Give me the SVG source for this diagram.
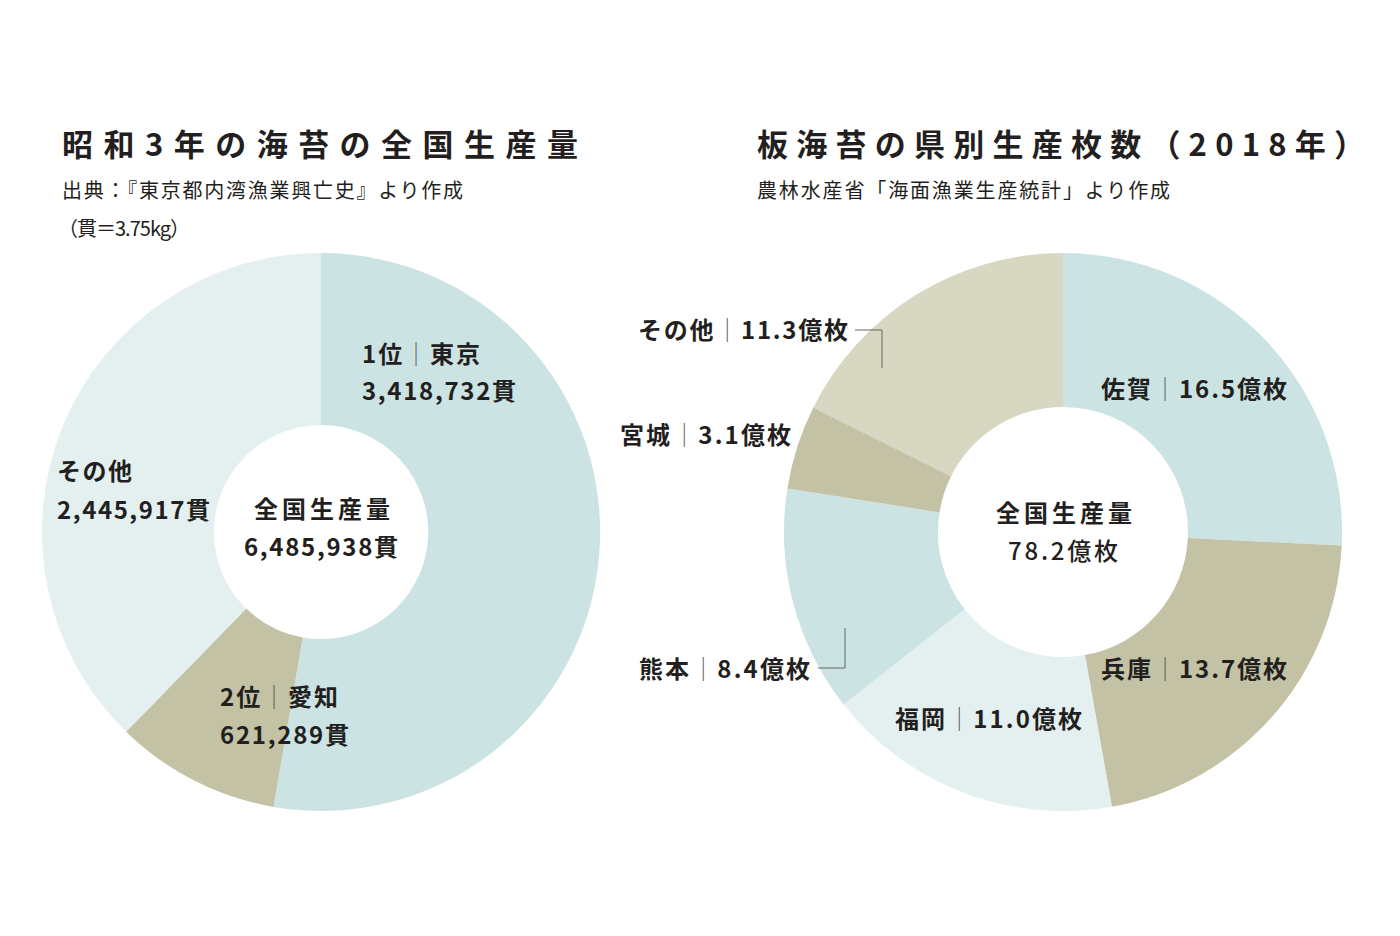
<svg xmlns="http://www.w3.org/2000/svg" width="1400" height="936" viewBox="0 0 1400 936">
<style>
text{font-family:"Noto Sans CJK JP","Noto Sans",sans-serif;fill:#231f20}
.t{font-size:31px;font-weight:700}
.s{font-size:20px;font-weight:400}
.l{font-size:24px;font-weight:700}
.sep{font-weight:300;fill:#555}
.ld{fill:none;stroke:#666;stroke-width:1}
</style>
<rect width="1400" height="936" fill="#fff"/>
<text class="t" x="62" y="156" textLength="516" lengthAdjust="spacing">昭和3年の海苔の全国生産量</text>
<text class="s" x="62" y="198" textLength="401">出典：『東京都内湾漁業興亡史』より作成</text>
<text class="s" x="58" y="236" textLength="132">（貫＝3.75kg）</text>
<text class="t" x="757" y="156" textLength="608" lengthAdjust="spacing">板海苔の県別生産枚数（2018年）</text>
<text class="s" x="757" y="198" textLength="413">農林水産省「海面漁業生産統計」より作成</text>

<g id="chart-left">
<path id="l-tokyo" d="M321,253 A279,279 0 1 1 273.5,806.9 L302.8,637.4 A107,107 0 1 0 321,425 Z" fill="#cce3e3"/>
<path id="l-aichi" d="M273.5,806.9 A279,279 0 0 1 126.1,731.7 L246.3,608.6 A107,107 0 0 0 302.8,637.4 Z" fill="#c4c2a4"/>
<path id="l-other" d="M126.1,731.7 A279,279 0 0 1 321,253 L321,425 A107,107 0 0 0 246.3,608.6 Z" fill="#e4f0ef"/>
</g>
<g id="chart-right">
<path id="r-saga" d="M1063,253 A279,279 0 0 1 1341.7,545.6 L1187.8,538.1 A125,125 0 0 0 1063,407 Z" fill="#cce3e3"/>
<path id="r-hyogo" d="M1341.7,545.6 A279,279 0 0 1 1111.9,806.7 L1084.9,655.1 A125,125 0 0 0 1187.8,538.1 Z" fill="#c4c2a4"/>
<path id="r-fukuoka" d="M1111.9,806.7 A279,279 0 0 1 843.6,704.4 L964.7,609.3 A125,125 0 0 0 1084.9,655.1 Z" fill="#e4f0ef"/>
<path id="r-kumamoto" d="M843.6,704.4 A279,279 0 0 1 787.4,488.4 L939.5,512.4 A125,125 0 0 0 964.7,609.3 Z" fill="#cce3e3"/>
<path id="r-miyagi" d="M787.4,488.4 A279,279 0 0 1 813.3,407.5 L951.1,476.2 A125,125 0 0 0 939.5,512.4 Z" fill="#c4c2a4"/>
<path id="r-other" d="M813.3,407.5 A279,279 0 0 1 1063,253 L1063,407 A125,125 0 0 0 951.1,476.2 Z" fill="#d8d7c1"/>
</g>
<g id="connectors">
<path class="ld" d="M855,330 H882 V368"/>
<path class="ld" d="M818,668 H845 V628"/>
</g>
<g id="labels-left">
<text class="l" x="362" y="363" textLength="118">1位<tspan class="sep">｜</tspan>東京</text>
<text class="l" x="362" y="400" textLength="154">3,418,732貫</text>
<text class="l" x="254" y="518" textLength="136">全国生産量</text>
<text class="l" x="244" y="556" textLength="154">6,485,938貫</text>
<text class="l" x="57" y="480" textLength="75">その他</text>
<text class="l" x="57" y="519" textLength="153">2,445,917貫</text>
<text class="l" x="220" y="706" textLength="118">2位<tspan class="sep">｜</tspan>愛知</text>
<text class="l" x="220" y="744" textLength="129">621,289貫</text>
</g>
<g id="labels-right">
<text class="l" x="638" y="339" textLength="210">その他<tspan class="sep">｜</tspan>11.3億枚</text>
<text class="l" x="620" y="444" textLength="171">宮城<tspan class="sep">｜</tspan>3.1億枚</text>
<text class="l" x="1101" y="398" textLength="186">佐賀<tspan class="sep">｜</tspan>16.5億枚</text>
<text class="l" x="996" y="522" textLength="136">全国生産量</text>
<text class="l" x="1008" y="560" textLength="110" style="font-weight:500">78.2億枚</text>
<text class="l" x="1101" y="678" textLength="186">兵庫<tspan class="sep">｜</tspan>13.7億枚</text>
<text class="l" x="895" y="728" textLength="187">福岡<tspan class="sep">｜</tspan>11.0億枚</text>
<text class="l" x="639" y="678" textLength="171">熊本<tspan class="sep">｜</tspan>8.4億枚</text>
</g>
</svg>
